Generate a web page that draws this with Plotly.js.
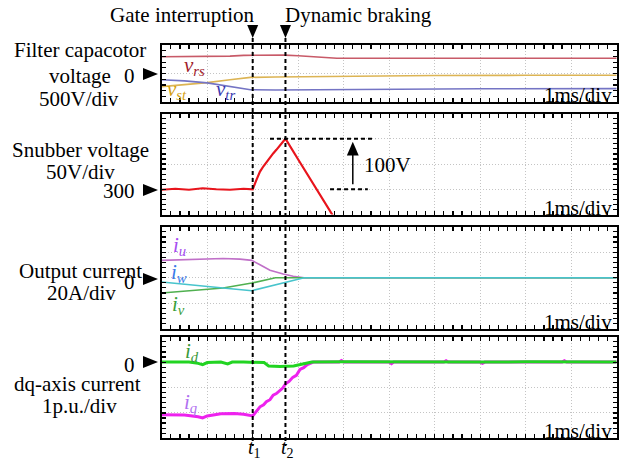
<!DOCTYPE html>
<html>
<head>
<meta charset="utf-8">
<script src="https://cdn.plot.ly/plotly-3.0.1.min.js"></script>
<style>html,body{margin:0;padding:0;background:#fff;}#chart{width:622px;height:459px;}</style>
</head>
<body>
<div id="chart"></div>
<script>
// ---------------- data ----------------
const tGate = 2.0;      // t1, ms
const tBrake = 2.72;    // t2, ms

// Panel 1: filter capacitor voltage (V)
const vrsT = [0, 0.5, 1.0, 1.5, 1.8, 2.2, 2.7, 3.0, 3.3, 3.85, 4.5, 6, 8, 10];
const vrs  = [295, 298, 296, 305, 318, 325, 322, 312, 295, 268, 267, 268, 266, 267];
const vstT = [0, 0.5, 1.0, 1.5, 1.95, 2.5, 3.0, 4.0, 6, 8, 10];
const vst  = [-230, -200, -160, -110, -68, -62, -58, -45, -35, -32, -30];
const vtrT = [0, 0.5, 1.0, 1.5, 1.95, 2.5, 3.5, 5, 7, 10];
const vtr  = [-110, -130, -165, -230, -285, -290, -285, -275, -268, -265];

// Panel 2: snubber voltage (V)
const snT = [0, 0.3, 0.6, 0.9, 1.2, 1.5, 1.8, 2.0, 2.08, 2.16, 2.24, 2.31, 2.38, 2.45, 2.52, 2.6, 2.66, 2.72, 3.0, 3.5, 3.85];
const snV = [299, 301, 299, 302, 300, 299, 301, 300, 318, 335, 346, 355, 362, 371, 378, 387, 393, 400, 359, 286, 235];

// Panel 3: output currents (A)
const iuT = [0, 0.69, 1.35, 1.72, 1.98, 2.16, 2.38, 2.67, 2.89, 3.13, 10];
const iu  = [13.6, 14.1, 15.1, 14.6, 13.6, 10.2, 5.8, 2.9, 1.2, 0, 0];
const ivT = [0, 0.69, 1.35, 1.98, 2.38, 2.5, 10];
const iv  = [-12.0, -9.9, -8.1, -4.2, -1.0, 0, 0];
const iwT = [0, 0.69, 1.35, 1.98, 2.38, 2.73, 3.13, 10];
const iw  = [-3.4, -6.0, -8.1, -10.2, -6.8, -3.7, 0, 0];

// Panel 4: dq-axis currents (p.u.)
const idT = [0, 0.6, 0.8, 0.9, 1.0, 1.3, 1.45, 1.55, 1.8, 2.0, 2.25, 2.35, 2.6, 2.9, 3.1, 3.3, 4, 5, 6, 7, 8, 9, 10];
const id  = [0, 0, -0.05, -0.1, -0.02, 0, -0.07, 0, 0, 0, -0.02, -0.15, -0.17, -0.15, -0.08, 0, 0.01, 0, -0.01, 0, 0.01, 0, 0];
const iqT = [0, 0.5, 0.8, 0.9, 1.0, 1.3, 1.6, 1.8, 2.0, 2.08, 2.16, 2.24, 2.3, 2.38, 2.45, 2.52, 2.6, 2.66, 2.73, 2.8, 2.88, 2.96, 3.04, 3.12, 3.2, 3.33, 3.9, 3.95, 4.0, 5.0, 5.05, 5.1, 6.2, 6.25, 6.3, 7.0, 7.05, 7.1, 8.8, 8.85, 8.9, 10];
const iq  = [-2.07, -2.08, -2.15, -2.2, -2.12, -2.03, -2.02, -2.05, -2.12, -1.95, -1.76, -1.68, -1.56, -1.48, -1.3, -1.24, -1.1, -1.02, -0.84, -0.76, -0.6, -0.52, -0.29, -0.22, -0.1, 0, 0, 0.06, 0, 0, -0.06, 0, 0, 0.05, 0, 0, -0.05, 0, 0, 0.05, 0, 0];

// ---------------- layout helpers ----------------
const W = 622, H = 459;
const X0 = 161.7, X1 = 616.7;
const px = x => x / W;
const py = y => 1 - y / H;
const panels = [[45, 102], [113.5, 214.5], [226.7, 328.7], [336.7, 438.3]];
const SERIF = 'Liberation Serif';
const tToPx = t => X0 + (X1 - X0) * t / 10;

function xAxis(anchor) {
  return {
    domain: [px(X0), px(X1)], anchor: anchor, range: [0, 10], dtick: 1, tick0: 0,
    showgrid: true, gridcolor: '#c4c4c4', griddash: '1px,2px', gridwidth: 1,
    zeroline: false, showticklabels: false,
    ticks: 'inside', ticklen: 4, tickwidth: 1.2, tickcolor: '#000',
    minor: {dtick: 0.2, ticks: 'inside', ticklen: 4, tickwidth: 1.2, tickcolor: '#000', showgrid: false},
    showline: true, linewidth: 2, linecolor: '#000', mirror: 'ticks', fixedrange: true
  };
}
function yAxis(anchor, idx, range, dtick) {
  const p = panels[idx];
  return {
    domain: [py(p[1]), py(p[0])], anchor: anchor, range: range, dtick: dtick, tick0: range[0],
    showgrid: true, gridcolor: '#c4c4c4', griddash: '1px,2px', gridwidth: 1,
    zeroline: false, showticklabels: false,
    ticks: 'inside', ticklen: 4, tickwidth: 1.2, tickcolor: '#000',
    minor: {dtick: dtick / 5, ticks: 'inside', ticklen: 4, tickwidth: 1.2, tickcolor: '#000', showgrid: false},
    showline: true, linewidth: 2, linecolor: '#000', mirror: 'ticks', fixedrange: true
  };
}

const line = (x, y, xa, ya, color, width) => ({
  x: x, y: y, xaxis: xa, yaxis: ya, type: 'scatter', mode: 'lines',
  line: {color: color, width: width}, hoverinfo: 'skip'
});

const traces = [
  line(vrsT, vrs, 'x', 'y', '#c85a68', 1.6),
  line(vstT, vst, 'x', 'y', '#dcb454', 1.6),
  line(vtrT, vtr, 'x', 'y', '#7474c4', 1.6),
  line(snT, snV, 'x2', 'y2', '#e8141c', 2.2),
  line(iuT, iu, 'x3', 'y3', '#c070c8', 1.6),
  line(ivT, iv, 'x3', 'y3', '#50b050', 1.6),
  line(iwT, iw, 'x3', 'y3', '#48c4cc', 1.6),
  line(iqT, iq, 'x4', 'y4', '#ee22ee', 3),
  line(idT, id, 'x4', 'y4', '#22d422', 3)
];

// ---------------- annotations ----------------
const ann = [];
function txt(text, x, y, xanchor, size, color) {
  ann.push({
    text: text, x: px(x), y: py(y), xref: 'paper', yref: 'paper',
    xanchor: xanchor || 'center', yanchor: 'middle', showarrow: false,
    font: {family: SERIF, size: size || 21, color: color || '#000'}
  });
}
txt('Gate interruption', 257, 15, 'right');
txt('Dynamic braking', 283, 15, 'left');
txt('Filter capacotor', 80, 50);
txt('voltage', 80, 76);
txt('0', 137, 76, 'right');
txt('500V/div', 79, 99);
txt('Snubber voltage', 80, 150);
txt('50V/div', 80, 172);
txt('300', 137, 191, 'right');
txt('Output current', 80, 271);
txt('20A/div', 82, 293);
txt('0', 137, 282, 'right');
txt('0', 137, 365, 'right');
txt('dq-axis current', 77, 384);
txt('1p.u./div', 79, 406);
panels.forEach(p => txt('1ms/div', 614, p[1] - 7, 'right'));
txt('100V', 362, 165, 'left');
txt('<i>t</i><sub>1</sub>', tToPx(tGate) + 2, 448, 'center', 20);
txt('<i>t</i><sub>2</sub>', tToPx(tBrake) + 2, 448, 'center', 20);
// trace labels
txt('<i>v<sub>rs</sub></i>', 194, 66, 'center', 21, '#a0202c');
txt('<i>v<sub>st</sub></i>', 177, 90, 'center', 21, '#d4a010');
txt('<i>v<sub>tr</sub></i>', 225, 90, 'center', 21, '#3a3ab0');
txt('<i>i<sub>u</sub></i>', 179, 246, 'center', 21, '#a64df0');
txt('<i>i<sub>w</sub></i>', 179, 273, 'center', 21, '#3a7ae8');
txt('<i>i<sub>v</sub></i>', 178, 305, 'center', 21, '#3aa03a');
txt('<i>i<sub>d</sub></i>', 192, 352, 'center', 21, '#3a9a3a');
txt('<i>i<sub>q</sub></i>', 190, 403, 'center', 21, '#b070f0');

// ---------------- shapes ----------------
const shapes = [];
[tGate, tBrake].forEach(t => {
  shapes.push({type: 'line', xref: 'x', yref: 'paper', x0: t, x1: t, y0: py(38), y1: py(446),
    line: {color: '#000', width: 2, dash: '4px,3px'}, layer: 'above'});
  const cx = tToPx(t);
  shapes.push({type: 'path', xref: 'paper', yref: 'paper',
    path: `M ${px(cx - 5.5)},${py(25)} L ${px(cx + 5.5)},${py(25)} L ${px(cx)},${py(38)} Z`,
    fillcolor: '#000', line: {width: 0}});
});
[74, 190, 279, 362].forEach(yc => {
  shapes.push({type: 'path', xref: 'paper', yref: 'paper',
    path: `M ${px(143)},${py(yc - 6)} L ${px(143)},${py(yc + 6)} L ${px(158)},${py(yc)} Z`,
    fillcolor: '#000', line: {width: 0}});
});
shapes.push({type: 'line', xref: 'x2', yref: 'y2', x0: 2.38, x1: 4.69, y0: 400, y1: 400,
  line: {color: '#000', width: 1.8, dash: '4px,3px'}});
shapes.push({type: 'line', xref: 'x2', yref: 'y2', x0: 3.7, x1: 4.53, y0: 300, y1: 300,
  line: {color: '#000', width: 1.8, dash: '4px,3px'}});
shapes.push({type: 'line', xref: 'x2', yref: 'y2', x0: 4.2, x1: 4.2, y0: 310, y1: 372,
  line: {color: '#000', width: 1.5}});
shapes.push({type: 'path', xref: 'x2', yref: 'y2',
  path: 'M 4.07,367 L 4.33,367 L 4.2,394 Z', fillcolor: '#000', line: {width: 0}});

const layout = {
  width: W, height: H, margin: {l: 0, r: 0, t: 0, b: 0},
  paper_bgcolor: '#fff', plot_bgcolor: '#fff', showlegend: false,
  font: {family: SERIF, color: '#000'},
  xaxis: xAxis('y'), yaxis: yAxis('x', 0, [-500, 500], 500),
  xaxis2: xAxis('y2'), yaxis2: yAxis('x2', 1, [250, 450], 50),
  xaxis3: xAxis('y3'), yaxis3: yAxis('x3', 2, [-40, 40], 20),
  xaxis4: xAxis('y4'), yaxis4: yAxis('x4', 3, [-3, 1], 1),
  annotations: ann, shapes: shapes
};

Plotly.newPlot('chart', traces, layout, {staticPlot: true, displayModeBar: false});
</script>
</body>
</html>
